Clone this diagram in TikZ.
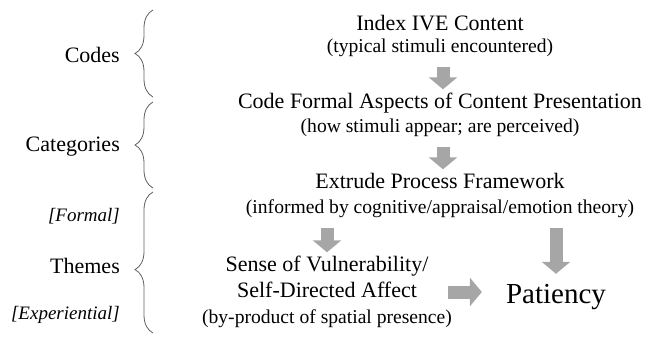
\documentclass[tikz,border=0pt]{standalone}
\usepackage{fontspec}
\setmainfont{Liberation Serif}
\usetikzlibrary{arrows.meta, decorations.pathreplacing, positioning}

\definecolor{arrowgray}{HTML}{A6A6A6}
\definecolor{bracegray}{HTML}{606060}

\begin{document}
\begin{tikzpicture}[x=1pt, y=-1pt,
  main/.style = {inner sep=0pt, text height=15pt, text depth=4pt,
                 font=\fontsize{22}{26}\selectfont},
  sub/.style  = {inner sep=0pt, text height=15pt, text depth=4pt,
                 font=\fontsize{19.6}{23}\selectfont},
  lab/.style  = {main, anchor=east},
  tag/.style  = {inner sep=0pt, anchor=east, text height=15pt, text depth=4pt,
                 font=\fontsize{19}{23}\selectfont\itshape},
  brc/.style  = {draw=bracegray, line width=0.8pt, decorate,
                 decoration={brace, amplitude=18pt}},
  blk/.style  = {draw=arrowgray, line width=13pt,
                 -{Triangle[width=28pt, length=12pt]},
                 shorten <=10pt, shorten >=4pt}]

\useasboundingbox (0,0) rectangle (646,337);

% levels on the left
\node [lab] (codes) at (120,57) {Codes};
\node [lab] (cats) at (120,146) {Categories};
\node [tag] (formal) at (120,216) {[Formal]};
\node [lab] (themes) at (120,268) {Themes};
\node [tag] (exper) at (120,314) {[Experiential]};

\draw [brc] (153,97) -- (153,10);
\draw [brc] (153,188) -- (153,102);
\draw [brc, decoration={aspect=0.45}] (153,333) -- (153,192);

% steps of the procedure
\node [main] (index) at (440,25) {Index IVE Content};
\node [sub] (indexsub) at (440,47) {(typical stimuli encountered)};
\node [main] (code) at (440,103) {Code Formal Aspects of Content Presentation};
\node [sub] (codesub) at (440,127) {(how stimuli appear; are perceived)};
\node [main] (extrude) at (440,183) {Extrude Process Framework};
\node [sub] (extrudesub) at (440,208) {(informed by cognitive/appraisal/emotion theory)};

\node [main] (sense) at (327,266) {Sense of Vulnerability/};
\node [main] (self) at (327,292) {Self-Directed Affect};
\node [sub] (selfsub) at (327,318) {(by-product of spatial presence)};

\node [inner sep=0pt, text height=20pt, text depth=6pt,
       font=\fontsize{29}{34}\selectfont] (pat) at (556,296) {Patiency};

% block arrows
\draw [blk] ([xshift=3pt]indexsub.south) -- ([xshift=3pt]code.north);
\draw [blk] ([xshift=3pt]codesub.south) -- ([xshift=3pt]extrude.north);
\draw [blk] (extrudesub.south -| sense) -- (sense.north);
\draw [blk, shorten >=9pt] (extrudesub.south -| pat) -- (pat.north);
\draw [blk, shorten <=31pt, shorten >=24pt] (self.east) -- (self.east -| pat.west);

\end{tikzpicture}
\end{document}
